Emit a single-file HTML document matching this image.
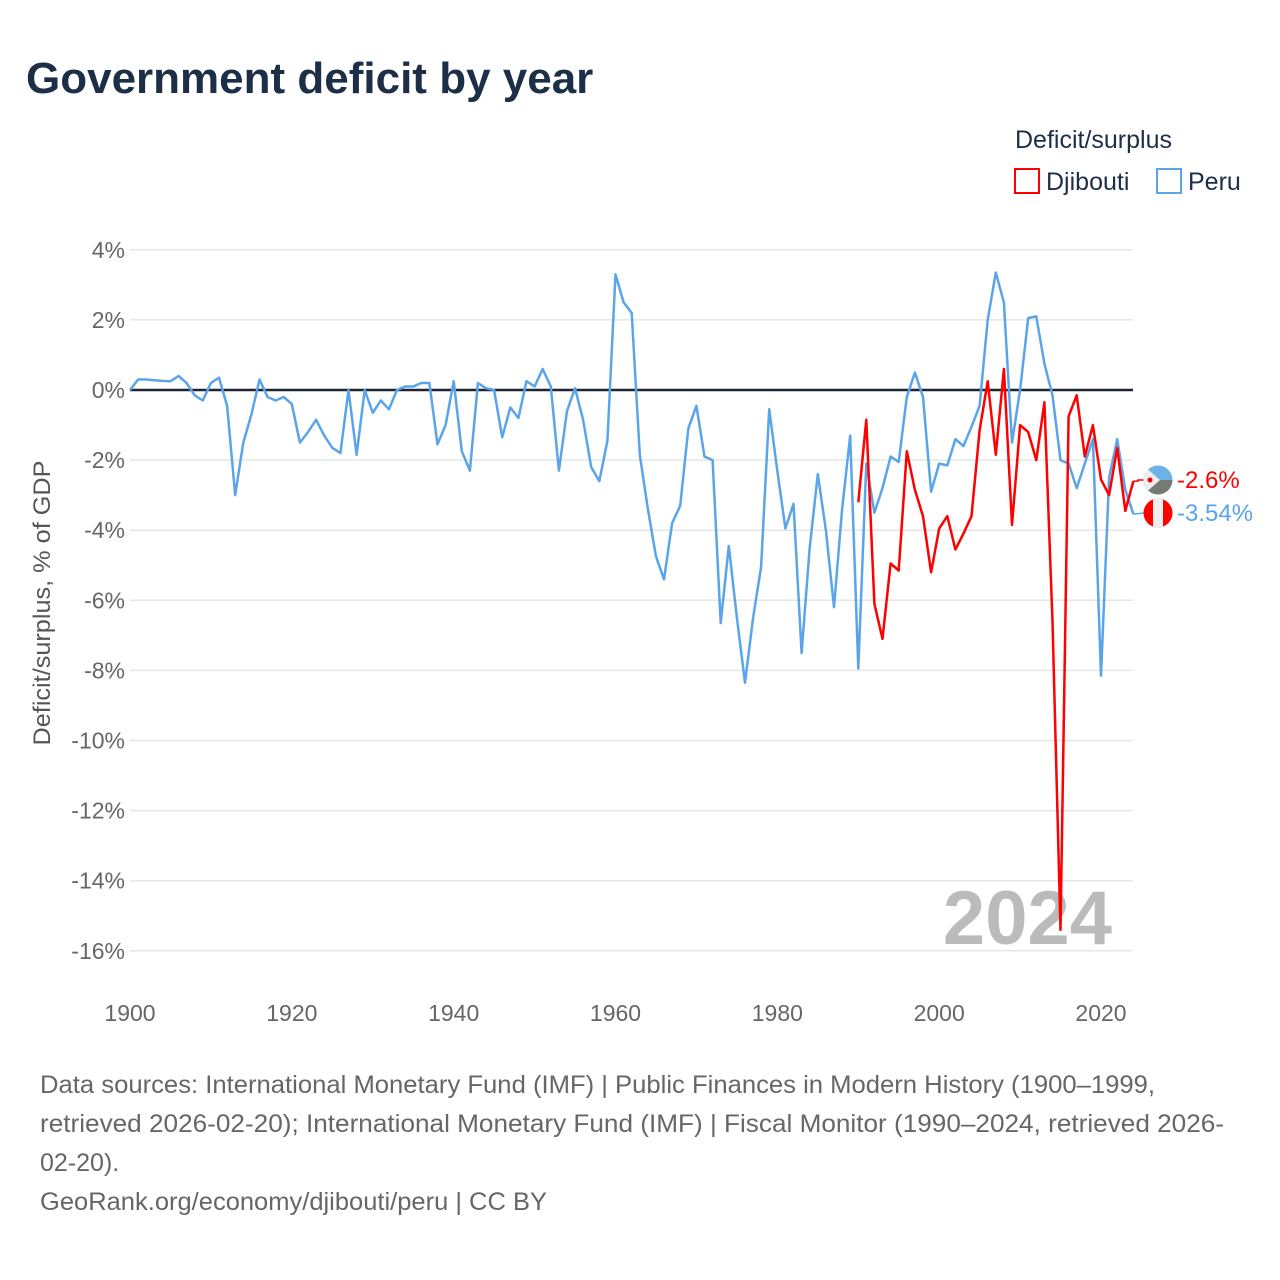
<!DOCTYPE html>
<html><head><meta charset="utf-8"><style>
body{margin:0;background:#fff;font-family:"Liberation Sans",sans-serif}
#wrap{position:relative;width:1280px;height:1280px;overflow:hidden}
</style></head><body>
<div id="wrap">
<svg id="svg" width="1280" height="1280" font-family="Liberation Sans, sans-serif">
<text x="26" y="93" font-size="44" font-weight="bold" fill="#1d2e47">Government deficit by year</text>
<text x="1015" y="148" font-size="25" fill="#1d2e47">Deficit/surplus</text>
<g><rect x="1015" y="169" width="24" height="24" fill="none" stroke="#f00" stroke-width="2"/><text x="1046" y="190" font-size="25" fill="#1d2e47">Djibouti</text></g>
<g><rect x="1157" y="169" width="24" height="24" fill="none" stroke="#5aa5ea" stroke-width="2"/><text x="1188" y="190" font-size="25" fill="#1d2e47">Peru</text></g>
<g id="grid"></g><g id="ylab"></g><g id="xlab"></g>
<line x1="130" x2="1133" y1="390" y2="390" stroke="#1d2633" stroke-width="2.5"/>
<text transform="translate(50,603) rotate(-90)" text-anchor="middle" font-size="24" fill="#555" textLength="285" lengthAdjust="spacingAndGlyphs">Deficit/surplus, % of GDP</text>
<text x="1112" y="944" text-anchor="end" font-size="76" font-weight="bold" fill="#bbb">2024</text>
<g id="series"></g><g id="ends"></g>
<text x="40" y="1093" font-size="25" fill="#666" textLength="1115" lengthAdjust="spacingAndGlyphs">Data sources: International Monetary Fund (IMF) | Public Finances in Modern History (1900–1999,</text>
<text x="40" y="1132" font-size="25" fill="#666" textLength="1184" lengthAdjust="spacingAndGlyphs">retrieved 2026-02-20); International Monetary Fund (IMF) | Fiscal Monitor (1990–2024, retrieved 2026-</text>
<text x="40" y="1171" font-size="25" fill="#666">02-20).</text>
<text x="40" y="1210" font-size="25" fill="#666" textLength="507" lengthAdjust="spacingAndGlyphs">GeoRank.org/economy/djibouti/peru | CC BY</text>
</svg></div>
<script>
const yTicks=[4,2,0,-2,-4,-6,-8,-10,-12,-14,-16];
const xTicks=[1900,1920,1940,1960,1980,2000,2020];
const peruStart=1900;
const peruValues=[0,0.3,0.3,0.28,0.26,0.25,0.4,0.2,-0.15,-0.3,0.2,0.35,-0.45,-3.0,-1.5,-0.7,0.3,-0.2,-0.3,-0.2,-0.4,-1.5,-1.2,-0.85,-1.3,-1.65,-1.8,0,-1.85,0,-0.65,-0.3,-0.55,0,0.1,0.1,0.2,0.2,-1.55,-1.0,0.25,-1.75,-2.3,0.2,0.05,0,-1.35,-0.5,-0.8,0.25,0.1,0.6,0.1,-2.3,-0.6,0.05,-0.85,-2.2,-2.6,-1.45,3.3,2.5,2.2,-1.85,-3.4,-4.75,-5.4,-3.8,-3.3,-1.1,-0.45,-1.9,-2.0,-6.65,-4.45,-6.5,-8.35,-6.5,-5.05,-0.55,-2.3,-3.95,-3.25,-7.5,-4.5,-2.4,-4.0,-6.2,-3.4,-1.3,-7.95,-2.1,-3.5,-2.8,-1.9,-2.05,-0.2,0.5,-0.2,-2.9,-2.1,-2.15,-1.4,-1.6,-1.05,-0.45,2.0,3.35,2.5,-1.5,0,2.05,2.1,0.75,-0.15,-2.0,-2.1,-2.8,-2.1,-1.4,-8.15,-2.5,-1.4,-2.85,-3.54];
const djiStart=1990;
const djiValues=[-3.2,-0.85,-6.1,-7.1,-4.95,-5.15,-1.75,-2.85,-3.6,-5.2,-3.95,-3.6,-4.55,-4.1,-3.6,-1.15,0.25,-1.85,0.6,-3.85,-1.0,-1.2,-2.0,-0.35,-6.6,-15.4,-0.75,-0.15,-1.9,-1.0,-2.55,-3.0,-1.65,-3.45,-2.6];
const NS='http://www.w3.org/2000/svg';
const X=yr=>130+(yr-1900)*(1101-130)/120;
const Y=v=>390-v*35.05;
function mk(t,a,p){const e=document.createElementNS(NS,t);for(const k in a)e.setAttribute(k,a[k]);document.getElementById(p).appendChild(e);return e;}
yTicks.forEach(v=>{
 const g=mk('line',{x1:130,x2:1133,y1:Y(v),y2:Y(v),stroke:'#e6e6e6','stroke-width':1.5},'grid');
 
 
 const t=mk('text',{x:125,y:Y(v)+8,'text-anchor':'end','font-size':23,fill:'#666'},'ylab');
 t.textContent=v+'%';
 
 
});
xTicks.forEach(v=>{
 const t=mk('text',{x:X(v),y:1021,'text-anchor':'middle','font-size':23,fill:'#666'},'xlab');
 t.textContent=v;
 
 
});
function line(start,vals,color,name){
 const d=vals.map((v,i)=>(i?'L':'M')+X(start+i).toFixed(1)+','+Y(v).toFixed(1)).join('');
 const p=mk('path',{d:d,fill:'none',stroke:color,'stroke-width':2.5,'stroke-linejoin':'round'},'series');
 
 
}
line(peruStart,peruValues,'#5aa5ea','peru-line');
line(djiStart,djiValues,'#f00','djibouti-line');
const dLast=djiValues[djiValues.length-1], pLast=peruValues[peruValues.length-1];
const dy=Y(dLast), py=Y(pLast);
const dFy=480, pFy=513;
const c1=mk('path',{d:`M${X(2024)},${dy}L1138,${dy}L1138,${dFy}L1144,${dFy}`,fill:'none',stroke:'#f00','stroke-width':1.5},'ends');


const c2=mk('path',{d:`M${X(2024)},${py}L1144,${pFy}`,fill:'none',stroke:'#5aa5ea','stroke-width':1.5},'ends');


const fd=mk('g',{},'ends');


fd.innerHTML=`<clipPath id="cd"><circle cx="1158" cy="${dFy}" r="14.5"/></clipPath><g clip-path="url(#cd)"><rect x="1143" y="${dFy-15}" width="30" height="15" fill="#6ab2e7"/><rect x="1143" y="${dFy}" width="30" height="15" fill="#757b73"/><path d="M1143,${dFy-15}L1160,${dFy}L1143,${dFy+15}Z" fill="#eee"/><circle cx="1150" cy="${dFy}" r="2.5" fill="#e00"/></g>`;
const fp=mk('g',{},'ends');


fp.innerHTML=`<clipPath id="cp"><circle cx="1158" cy="${pFy}" r="14.5"/></clipPath><g clip-path="url(#cp)"><rect x="1143" y="${pFy-15}" width="30" height="30" fill="#f00"/><rect x="1153" y="${pFy-15}" width="10" height="30" fill="#eee"/></g>`;
const t1=mk('text',{x:1177,y:dFy+8,'font-size':24,fill:'#f00'},'ends');
t1.textContent=dLast+'%';


const t2=mk('text',{x:1177,y:pFy+8,'font-size':24,fill:'#5aa5ea'},'ends');
t2.textContent=pLast+'%';


</script>
</body></html>
